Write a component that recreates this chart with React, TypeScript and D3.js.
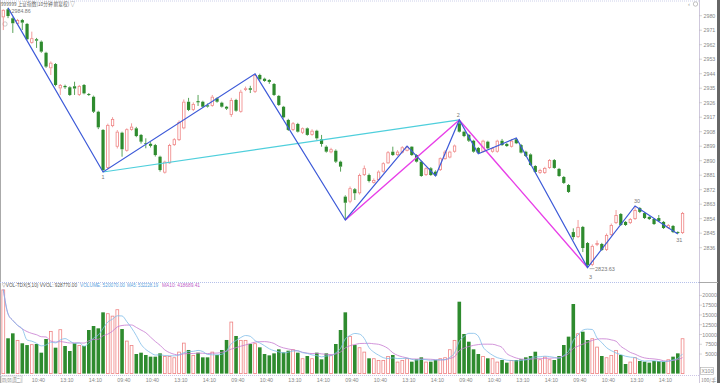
import React from 'react';
import * as d3 from 'd3';

const opens = [
  2979.0, 2984.0, 2978.4, 2974.9, 2977.3, 2974.9, 2963.2, 2965.4, 2963.9, 2957.0, 2947.4, 2950.0, 2934.9, 2936.4, 2935.6, 2936.2, 2930.8, 2937.0, 2931.4, 2929.7, 2920.4, 2909.1, 2885.5, 2911.5,
  2898.7, 2907.4, 2896.2, 2909.1, 2910.1, 2906.0, 2900.9, 2900.5, 2899.7, 2892.5, 2882.6, 2888.4, 2899.7, 2902.8, 2910.1, 2926.6, 2921.5, 2927.0, 2926.6, 2924.4, 2924.0, 2928.7, 2926.0, 2923.5,
  2918.4, 2927.7, 2920.4, 2933.9, 2935.0, 2932.8, 2943.2, 2940.9, 2940.1, 2937.6, 2930.2, 2923.5, 2915.3, 2909.1, 2912.8, 2907.4, 2910.1, 2906.0, 2908.6, 2903.3, 2898.7, 2895.2, 2896.2, 2889.4,
  2867.7, 2864.6, 2872.3, 2869.8, 2881.1, 2881.1, 2876.3, 2878.0, 2883.2, 2888.4, 2895.6, 2893.5, 2895.0, 2896.2, 2898.7, 2893.5, 2889.4, 2881.1, 2885.3, 2883.2, 2884.2, 2891.0, 2892.0, 2895.6,
  2913.2, 2908.0, 2906.0, 2902.4, 2897.9, 2895.6, 2901.8, 2895.6, 2895.6, 2902.4, 2900.4, 2898.7, 2903.3, 2899.7, 2895.6, 2893.9, 2886.7, 2882.4, 2882.4, 2885.5, 2890.4, 2884.9, 2879.9, 2874.9,
  2845.7, 2842.6, 2848.9, 2838.9, 2825.3, 2837.7, 2838.3, 2834.6, 2843.9, 2851.3, 2856.9, 2852.0, 2851.3, 2853.8, 2860.6, 2857.5, 2855.1, 2853.8, 2854.4, 2852.0, 2848.2, 2849.5, 2845.7, 2845.1,
];
const highs = [
  2984.0, 2984.86, 2979.0, 2978.0, 2978.0, 2975.5, 2970.1, 2966.2, 2964.6, 2957.6, 2951.6, 2950.6, 2937.6, 2937.2, 2936.2, 2939.0, 2937.0, 2937.6, 2932.0, 2930.4, 2921.0, 2909.6, 2913.0, 2917.0,
  2909.0, 2908.0, 2910.1, 2913.2, 2911.0, 2906.6, 2903.9, 2901.5, 2900.4, 2893.1, 2890.0, 2900.5, 2904.0, 2915.0, 2928.0, 2929.0, 2926.2, 2930.8, 2927.2, 2925.5, 2930.8, 2929.4, 2926.6, 2924.0,
  2929.0, 2928.4, 2934.0, 2936.0, 2936.5, 2943.9, 2944.0, 2941.5, 2940.6, 2938.2, 2930.8, 2924.0, 2916.0, 2914.0, 2913.5, 2910.6, 2910.6, 2909.5, 2909.2, 2906.0, 2899.5, 2898.0, 2897.0, 2890.0,
  2868.5, 2874.0, 2873.0, 2882.0, 2887.0, 2882.0, 2879.0, 2884.0, 2889.0, 2896.0, 2898.7, 2896.5, 2899.0, 2899.1, 2899.0, 2894.0, 2890.0, 2886.0, 2886.0, 2884.0, 2892.0, 2896.5, 2896.2, 2900.0,
  2915.3, 2908.6, 2906.6, 2903.0, 2898.5, 2903.0, 2902.4, 2898.5, 2903.0, 2903.5, 2901.0, 2903.5, 2904.1, 2900.4, 2896.2, 2894.5, 2887.2, 2885.0, 2886.2, 2891.0, 2891.0, 2885.5, 2880.5, 2875.5,
  2848.0, 2853.2, 2849.5, 2839.5, 2838.0, 2840.5, 2839.0, 2844.8, 2851.0, 2859.4, 2857.5, 2852.6, 2854.4, 2861.9, 2861.2, 2858.2, 2855.6, 2854.4, 2856.3, 2852.6, 2850.7, 2850.1, 2846.2, 2858.2,
];
const lows = [
  2971.1, 2978.5, 2969.3, 2974.3, 2971.1, 2964.8, 2962.6, 2960.0, 2957.0, 2947.6, 2943.2, 2936.2, 2930.8, 2934.6, 2930.2, 2930.8, 2930.2, 2931.2, 2930.2, 2919.6, 2909.6, 2883.0, 2884.6, 2910.8,
  2897.6, 2892.5, 2895.6, 2908.6, 2904.6, 2900.6, 2897.7, 2898.2, 2892.6, 2883.2, 2882.0, 2888.0, 2899.2, 2902.2, 2909.5, 2920.8, 2920.8, 2924.0, 2923.0, 2923.0, 2923.5, 2926.0, 2923.0, 2921.5,
  2917.2, 2920.4, 2919.8, 2933.2, 2932.0, 2932.0, 2939.6, 2939.0, 2937.7, 2930.2, 2924.0, 2916.2, 2908.5, 2908.5, 2907.5, 2906.6, 2905.5, 2905.5, 2903.0, 2898.7, 2895.0, 2894.6, 2888.6, 2883.2,
  2853.2, 2863.6, 2865.6, 2869.0, 2880.5, 2876.5, 2875.8, 2877.5, 2882.6, 2888.0, 2893.0, 2893.0, 2894.5, 2895.8, 2893.0, 2888.9, 2880.0, 2880.5, 2880.6, 2880.5, 2883.6, 2890.6, 2891.5, 2895.0,
  2907.5, 2904.6, 2901.6, 2895.0, 2894.3, 2895.0, 2897.2, 2895.0, 2895.0, 2899.2, 2898.6, 2898.2, 2900.3, 2894.5, 2892.3, 2886.8, 2882.5, 2881.8, 2881.8, 2885.0, 2885.0, 2880.0, 2875.6, 2870.0,
  2841.0, 2842.0, 2833.3, 2823.63, 2824.5, 2837.0, 2834.0, 2834.0, 2843.3, 2850.7, 2849.5, 2849.5, 2850.7, 2853.2, 2857.5, 2853.8, 2853.2, 2850.1, 2852.0, 2847.6, 2847.6, 2845.1, 2844.5, 2844.5,
];
const closes = [
  2983.6, 2979.8, 2975.3, 2977.3, 2975.7, 2965.4, 2966.0, 2964.5, 2957.7, 2948.4, 2950.8, 2937.0, 2937.0, 2935.6, 2930.8, 2934.8, 2936.4, 2931.8, 2930.8, 2920.4, 2910.7, 2884.2, 2912.2, 2915.9,
  2908.0, 2897.1, 2909.5, 2911.1, 2905.3, 2901.8, 2900.6, 2899.2, 2893.5, 2884.2, 2889.4, 2899.7, 2903.3, 2914.0, 2926.6, 2921.5, 2925.2, 2926.2, 2923.5, 2923.6, 2929.7, 2926.6, 2923.5, 2922.3,
  2927.7, 2921.0, 2932.8, 2934.9, 2934.0, 2943.2, 2940.5, 2939.5, 2938.9, 2930.8, 2924.6, 2916.9, 2909.1, 2913.2, 2908.0, 2910.1, 2906.0, 2908.6, 2903.9, 2900.4, 2895.6, 2897.1, 2889.4, 2886.3,
  2863.9, 2872.9, 2869.8, 2881.1, 2885.3, 2877.4, 2878.0, 2883.2, 2888.4, 2895.2, 2893.5, 2895.6, 2898.3, 2898.7, 2893.5, 2889.4, 2880.5, 2885.3, 2881.1, 2880.8, 2891.5, 2895.6, 2895.6, 2899.4,
  2908.0, 2905.3, 2902.4, 2895.6, 2894.8, 2902.4, 2897.7, 2897.7, 2902.4, 2899.7, 2899.1, 2902.4, 2900.8, 2895.0, 2892.9, 2887.3, 2883.0, 2884.2, 2885.5, 2890.4, 2885.5, 2880.5, 2876.2, 2870.6,
  2842.6, 2848.9, 2835.8, 2825.3, 2837.1, 2838.9, 2834.6, 2843.9, 2850.1, 2856.3, 2850.1, 2850.1, 2853.8, 2859.4, 2858.2, 2854.4, 2853.8, 2850.7, 2852.6, 2848.2, 2850.1, 2845.7, 2845.1, 2857.5,
];
const volumes = [
  21500, 9030, 10300, 8600, 7750, 7300, 7500, 7570, 5350, 8850, 10900, 6630, 11330, 7060, 5780, 7750, 7310, 7060, 11150, 12170, 11580, 15670, 15420, 14800,
  16440, 11400, 8420, 7300, 5010, 5350, 4760, 4330, 4330, 5180, 4500, 4500, 4160, 5600, 7900, 6040, 4760, 5350, 4160, 4160, 5600, 4760, 6040, 8600,
  13280, 9620, 8600, 8600, 7570, 7750, 6720, 5010, 4670, 5180, 6210, 5430, 5860, 6210, 5350, 3910, 4500, 3910, 5350, 3650, 5180, 4760, 7570, 11150,
  15670, 9620, 7310, 6720, 5600, 3910, 3910, 3480, 3480, 4500, 4760, 3050, 3480, 3910, 3050, 3650, 4160, 3050, 3050, 3480, 3910, 4160, 6210, 8600,
  18390, 10130, 8160, 6210, 5010, 4500, 3910, 3910, 3050, 3480, 2800, 3480, 3480, 3650, 4160, 4500, 5600, 3650, 4330, 3650, 3480, 4500, 7310, 9450,
  17800, 10300, 10720, 8590, 9020, 6880, 4500, 4160, 4760, 6040, 4760, 2450, 3050, 4160, 3220, 3050, 2800, 3220, 3220, 3050, 3650, 4330, 5180, 9020,
];

const priceTicks = [2980, 2971, 2962, 2953, 2944, 2935, 2926, 2917, 2908, 2899, 2890, 2881, 2872, 2863, 2854, 2845, 2836];
const volTicks = [20000, 17500, 15000, 12500, 10000, 7500, 5000];

const timeLabelIdx = [0, 6, 12, 18, 24, 30, 36, 42, 48, 54, 60, 66, 72, 78, 84, 90, 96, 102, 108, 114, 120, 126, 132, 138];
const timeLabelText = ['09/08(周二)', '10:40', '13:10', '14:10', '09:40', '10:40', '13:10', '14:10', '09:40', '10:40', '13:10', '14:10', '09:40', '10:40', '13:10', '14:10', '09:40', '10:40', '13:10', '14:10', '09:40', '10:40', '13:10', '14:10'];

const zigIdx = [1, 21, 53, 72, 85, 91, 96, 100, 108, 123, 133, 142];
const zigPrice = [2984.86, 2883.0, 2943.9, 2853.2, 2899.1, 2880.5, 2915.3, 2894.3, 2904.1, 2823.63, 2861.9, 2844.5];
const cyanIdx = [21, 96];
const cyanPrice = [2883.0, 2915.3];
const magentaIdx = [72, 96, 123];
const magentaPrice = [2853.2, 2915.3, 2823.63];

const RED = '#ef8383';
const GREEN = '#2e8b2e';
const FONT = 'Liberation Sans, Arial, sans-serif';
const CJK = 'Noto Sans CJK SC, sans-serif';

export default function App() {
  const n = opens.length;
  const x = d3.scaleLinear().domain([0, n - 1]).range([3.3, 3.3 + 4.75 * (n - 1)]);
  const y = d3.scaleLinear().domain([2980, 2836]).range([15.7, 247.7]);
  const yv = d3.scaleLinear().domain([0, 20000]).range([373.6, 295.4]);

  const ma = (k: number) => volumes.map((_, i) => d3.mean(volumes.slice(Math.max(0, i - k + 1), i + 1)) as number);
  const ma5 = ma(5);
  const ma10 = ma(10);
  const vLine = d3.line<number>().x((_, i) => x(i)).y((v) => yv(v)).curve(d3.curveMonotoneX);

  const polyline = (idx: number[], pr: number[]) =>
    d3.line<number>().x((d) => x(d)).y((_, k) => y(pr[k]))(idx) as string;

  const bw = 3.2;
  const vw = 3.6;

  return (
    <div>
      <style>{`body{margin:0;background:#fff}`}</style>
      <svg width={720} height={383} style={{ display: 'block', background: '#fff' }}>
        {/* frames */}
        <line x1={0.5} y1={0} x2={0.5} y2={383} stroke="#aaa" strokeWidth={1} />
        <line x1={718.5} y1={0} x2={718.5} y2={383} stroke="#666" strokeWidth={3} />
        <line x1={0} y1={1} x2={699} y2={1} stroke="#cdd0ea" strokeWidth={1} strokeDasharray="1,1" />
        <line x1={699.5} y1={0} x2={699.5} y2={383} stroke="#cfc8dc" strokeWidth={1} />
        <line x1={0} y1={282.5} x2={699} y2={282.5} stroke="#b5c0ea" strokeWidth={1} strokeDasharray="1,1" />
        <line x1={699} y1={282.5} x2={718} y2={282.5} stroke="#aaa" strokeWidth={1} />
        <line x1={0} y1={375.5} x2={699} y2={375.5} stroke="#cdc6e6" strokeWidth={1} strokeDasharray="1,1" />

        {/* title */}
        <text x={1} y={5.6} fontSize={5.4} fill="#666" fontFamily={CJK} textLength={74} lengthAdjust="spacingAndGlyphs">
          999999 上证指数(10分钟 前复权) ▽
        </text>
        <text x={688} y={6} fontSize={6} fill="#999" fontFamily={FONT}>‹</text>
        <circle cx={695.5} cy={4} r={2.2} fill="none" stroke="#999" strokeWidth={0.6} />
        <circle cx={5} cy={24} r={2.2} fill="none" stroke="#aaa" strokeWidth={0.6} />

        {/* price axis */}
        {priceTicks.map((t) => (
          <g key={t}>
            <line x1={699} x2={702} y1={y(t)} y2={y(t)} stroke="#bbb" strokeWidth={0.6} />
            <text x={703.5} y={y(t) + 2} fontSize={5.3} fill="#888" fontFamily={FONT}>{t}</text>
          </g>
        ))}

        {/* volume axis */}
        {volTicks.map((t) => (
          <g key={t}>
            <line x1={699} x2={702} y1={yv(t)} y2={yv(t)} stroke="#bbb" strokeWidth={0.6} />
            <text x={717} y={yv(t) + 2} fontSize={5.3} fill="#888" fontFamily={FONT} textAnchor="end">{t}</text>
          </g>
        ))}
        <rect x={700.5} y={367.5} width={13} height={7} fill="none" stroke="#aaa" strokeWidth={0.6} />
        <text x={701.5} y={373} fontSize={5} fill="#888" fontFamily={FONT}>X100</text>
        <text x={701} y={381.5} fontSize={5} fill="#888" fontFamily={CJK}>100/手</text>

        {/* candles */}
        {opens.map((o, i) => {
          const c = closes[i];
          const up = c >= o;
          const cx = x(i);
          const top = y(Math.max(o, c));
          const bot = y(Math.min(o, c));
          const h = Math.max(bot - top, 0.8);
          const col = up ? RED : GREEN;
          return (
            <g key={i}>
              <line x1={cx} x2={cx} y1={y(highs[i])} y2={top} stroke={col} strokeWidth={0.8} />
              <line x1={cx} x2={cx} y1={top + h} y2={y(lows[i])} stroke={col} strokeWidth={0.8} />
              {up ? (
                <rect x={cx - bw / 2 + 0.4} y={top + 0.4} width={bw - 0.8} height={Math.max(h - 0.8, 0.4)} fill="#fff" stroke={col} strokeWidth={0.8} />
              ) : (
                <rect x={cx - bw / 2} y={top} width={bw} height={h} fill={col} />
              )}
            </g>
          );
        })}

        {/* wave lines */}
        <path d={polyline(cyanIdx, cyanPrice)} fill="none" stroke="#4fcfdc" strokeWidth={1.2} />
        <path d={polyline(magentaIdx, magentaPrice)} fill="none" stroke="#e840e8" strokeWidth={1.4} />
        <path d={polyline(zigIdx, zigPrice)} fill="none" stroke="#3d5ad8" strokeWidth={1.2} />

        {/* annotations */}
        <line x1={x(1) + 1} x2={x(1) + 3} y1={y(2984.86) + 2.5} y2={y(2984.86) + 2.5} stroke="#888" strokeWidth={0.6} />
        <text x={x(1) + 3.5} y={y(2984.86) + 5} fontSize={5.3} fill="#777" fontFamily={FONT}>2984.86</text>
        <line x1={x(123) + 2} x2={x(123) + 7} y1={y(2823.63) + 1} y2={y(2823.63) + 1} stroke="#888" strokeWidth={0.6} />
        <text x={x(123) + 7.5} y={y(2823.63) + 3.5} fontSize={5.5} fill="#777" fontFamily={FONT}>2823.63</text>
        <text x={x(21) - 1.5} y={y(2883.0) + 7} fontSize={5.5} fill="#777" fontFamily={FONT}>1</text>
        <text x={x(96) - 2.5} y={y(2915.3) - 3} fontSize={5.5} fill="#777" fontFamily={FONT}>2</text>
        <text x={x(123) + 1.5} y={y(2823.63) + 11} fontSize={5.5} fill="#777" fontFamily={FONT}>3</text>
        <text x={x(133) - 1} y={y(2861.9) - 3} fontSize={5.5} fill="#777" fontFamily={FONT}>30</text>
        <text x={x(142) - 1.5} y={y(2844.5) + 8} fontSize={5.5} fill="#777" fontFamily={FONT}>31</text>

        {/* volume header */}
        <text x={2} y={286.5} fontSize={5} fill="#555" fontFamily={FONT} textLength={75} lengthAdjust="spacingAndGlyphs">▽VOL-TDX(5,10) VVOL: 928770.00</text>
        <text x={80} y={286.5} fontSize={5} fill="#5aa0dc" fontFamily={FONT} textLength={45} lengthAdjust="spacingAndGlyphs">VOLUME: 520070.00</text>
        <text x={127} y={286.5} fontSize={5} fill="#5aa0dc" fontFamily={FONT} textLength={31} lengthAdjust="spacingAndGlyphs">MA5: 532228.19</text>
        <text x={162} y={286.5} fontSize={5} fill="#c060c8" fontFamily={FONT} textLength={38} lengthAdjust="spacingAndGlyphs">MA10: 418689.41</text>

        {/* volume bars */}
        {volumes.map((v, i) => {
          const up = closes[i] >= opens[i];
          const cx = x(i);
          const top = yv(v);
          const base = yv(0);
          return up ? (
            <rect key={i} x={cx - vw / 2 + 0.4} y={top + 0.4} width={vw - 0.8} height={base - top - 0.4} fill="#fff" stroke={RED} strokeWidth={0.8} />
          ) : (
            <rect key={i} x={cx - vw / 2} y={top} width={vw} height={base - top} fill={GREEN} />
          );
        })}
        <path d={vLine(ma10) as string} fill="none" stroke="#c77ad0" strokeWidth={0.8} />
        <path d={vLine(ma5) as string} fill="none" stroke="#7fbde8" strokeWidth={0.8} />

        {/* time axis */}
        {timeLabelIdx.map((idx, k) => (
          <g key={k}>
            {k === 0 ? (
              <rect x={1} y={376} width={21} height={7} fill="none" stroke="#aaa" strokeWidth={0.5} />
            ) : null}
            <text x={k === 0 ? 2 : x(idx)} y={381.5} fontSize={5.3} fill="#888" fontFamily={k === 0 ? CJK : FONT}
              textLength={k === 0 ? 19.5 : undefined} lengthAdjust="spacingAndGlyphs">
              {timeLabelText[k]}
            </text>
          </g>
        ))}
      </svg>
    </div>
  );
}
